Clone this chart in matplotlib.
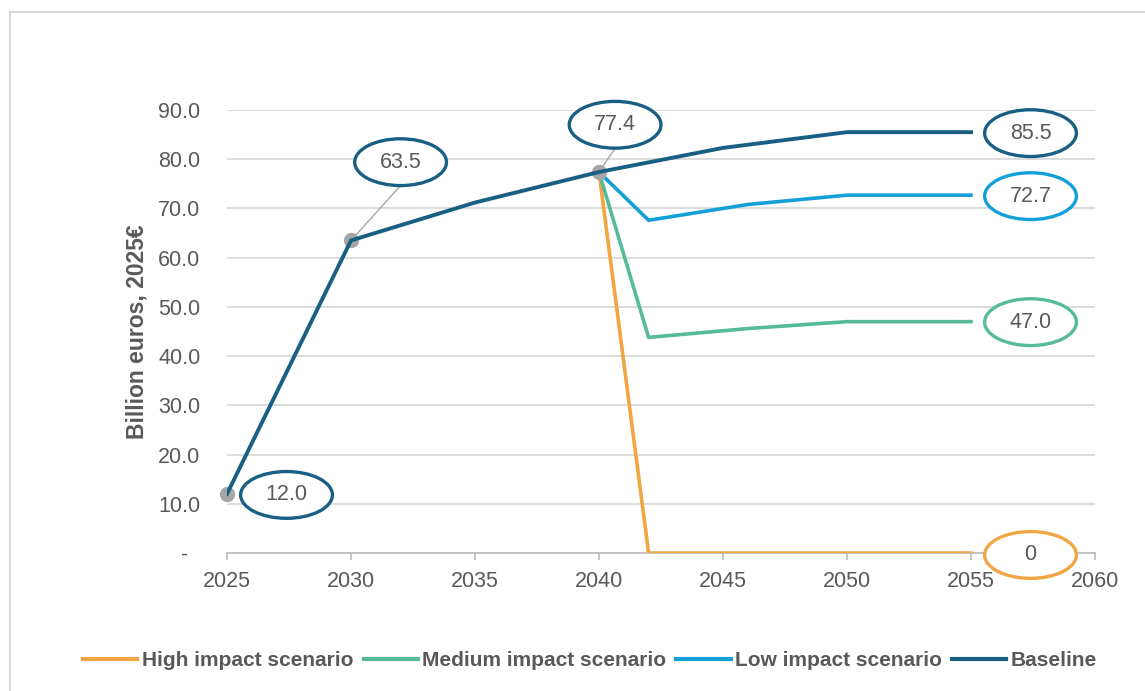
import matplotlib
matplotlib.use("Agg")
import matplotlib.pyplot as plt
from matplotlib.patches import Ellipse
from matplotlib.lines import Line2D

# data
years_base = [2025, 2030, 2035, 2040, 2045, 2050, 2055]
baseline = [12.0, 63.5, 71.2, 77.4, 82.3, 85.5, 85.5]

years_scen = [2040, 2042, 2046, 2050, 2055]
low = [77.4, 67.6, 70.8, 72.7, 72.7]
medium = [77.4, 43.8, 45.6, 47.0, 47.0]
high = [77.4, 0.0, 0.0, 0.0, 0.0]

x_ticks = [2025, 2030, 2035, 2040, 2045, 2050, 2055, 2060]
y_ticks = [0, 10, 20, 30, 40, 50, 60, 70, 80, 90]

c_high = "#F2A543"
c_med = "#55BB9B"
c_low = "#139FD8"
c_base = "#185F83"
c_text = "#595959"
c_grid = "#D9D9D9"
c_mark = "#A6A6A6"

plt.rcParams['font.family'] = ['Liberation Sans', 'DejaVu Sans']

fig = plt.figure(figsize=(11.45, 6.91), dpi=100)
W, H = 1145, 691
ax = fig.add_axes([227 / W, 1 - 553 / H, 868 / W, 443 / H])

ax.plot(years_scen, high, color=c_high, lw=2.6, zorder=3, label="High impact scenario")
ax.plot(years_scen, medium, color=c_med, lw=2.6, zorder=3, label="Medium impact scenario")
ax.plot(years_scen, low, color=c_low, lw=2.6, zorder=3, label="Low impact scenario")
ax.plot(years_base, baseline, color=c_base, lw=2.8, zorder=4, label="Baseline")

# grey markers on the labelled baseline points
for yr in (2025, 2030, 2040):
    v = baseline[years_base.index(yr)]
    ax.plot([yr], [v], "o", color=c_mark, ms=10, zorder=3.5, clip_on=False)

ax.set_xlim(2025, 2060)
ax.set_ylim(0, 90)
ax.set_xticks(x_ticks)
ax.set_yticks(y_ticks)
ax.set_yticklabels(["-  "] + [f"{v:.1f}" for v in y_ticks[1:]])
ax.grid(axis="y", color=c_grid, lw=1.3)
ax.set_axisbelow(True)
for s in ("top", "right", "left"):
    ax.spines[s].set_visible(False)
ax.spines["bottom"].set_color("#BFBFBF")
ax.spines["bottom"].set_linewidth(1.3)
ax.tick_params(axis="x", colors="#BFBFBF", length=5, width=1.3, pad=8,
               labelcolor=c_text, labelsize=15.5)
ax.tick_params(axis="y", length=0, pad=19, labelcolor=c_text, labelsize=15.5)

ax.set_ylabel("Billion euros, 2025€", fontsize=16.5, fontweight="bold", color=c_text)
ax.yaxis.set_label_coords(-0.09, 0.5)

# ellipse call-outs: (x, y, value, colour, leader start or None)
ew, eh = 3.7, 9.5
callouts = [
    (2027.4, 11.8, baseline[0], c_base, None),
    (2032.0, 79.4, baseline[1], c_base, (2030, baseline[1])),
    (2040.65, 87.0, baseline[3], c_base, (2040, baseline[3])),
    (2057.4, 85.3, baseline[-1], c_base, None),
    (2057.4, 72.5, low[-1], c_low, None),
    (2057.4, 46.9, medium[-1], c_med, None),
    (2057.4, -0.4, high[-1], c_high, None),
]
for cx, cy, val, col, lead in callouts:
    if lead is not None:
        ax.plot([lead[0], cx], [lead[1], cy - eh / 2], color=c_mark, lw=1,
                zorder=3.6, clip_on=False)
    e = Ellipse((cx, cy), ew, eh, facecolor="white", edgecolor=col, lw=2.4,
                zorder=5, clip_on=False)
    ax.add_patch(e)
    txt = "0" if val == 0 else f"{val:.1f}"
    ax.text(cx, cy, txt, ha="center", va="center", fontsize=15.5,
            color=c_text, zorder=6)

leg = fig.legend(loc="center", bbox_to_anchor=(590 / W, 1 - 661 / H), ncol=4,
                 frameon=False, handlelength=2.6, handletextpad=0.2,
                 columnspacing=0.5, prop={"size": 15, "weight": "bold"})
for t in leg.get_texts():
    t.set_color(c_text)
for h in leg.get_lines():
    h.set_linewidth(3)

# light frame around the chart
fig.add_artist(Line2D([10 / W, 10 / W], [0, 1 - 12 / H], color=c_grid, lw=1.5,
                      transform=fig.transFigure))
fig.add_artist(Line2D([10 / W, 1], [1 - 12 / H, 1 - 12 / H], color=c_grid, lw=1.5,
                      transform=fig.transFigure))

fig.savefig("out.png", dpi=100)
